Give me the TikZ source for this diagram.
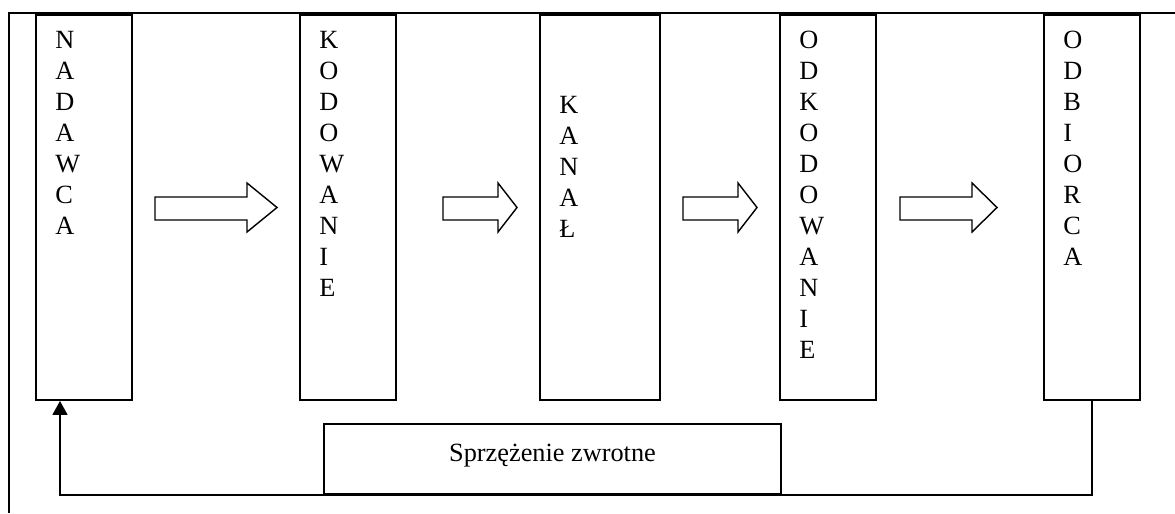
\documentclass[tikz,border=0pt]{standalone}
\usepackage{fontspec}
\setmainfont{Liberation Serif}
\usetikzlibrary{positioning, arrows.meta}

\begin{document}
\begin{tikzpicture}[
        x=0.025cm, y=-0.025cm,
        box/.style={rectangle, draw, line width=1.3pt, minimum width=2.4cm, minimum height=9.625cm, inner sep=0pt},
        letters/.style={align=left, inner sep=0pt, font=\fontsize{18.7pt}{22pt}\selectfont},
        blockarrow/.style={draw, line width=1pt, line join=miter},
        arrow/.style={-{Triangle[width=0.375cm, length=0.35cm]}, thick, line width=1.3pt, draw, black}
    ]
    \useasboundingbox (0,0) rectangle (1175,513);

    % Frame
    \draw[line width=1.3pt] (9,513) -- (9,13) -- (1175,13);

    % Blocks
    \node[box] (nadawca) at (84,207.5) {};
    \node[box] (kodowanie) at (348,207.5) {};
    \node[box, minimum width=3cm] (kanal) at (600,207.5) {};
    \node[box] (odkodowanie) at (828,207.5) {};
    \node[box] (odbiorca) at (1092,207.5) {};

    % Vertical labels
    \node[letters, below right=0.425cm and 0.5cm of nadawca.north west] (nadawcatxt) {N\\A\\D\\A\\W\\C\\A};
    \node[letters, below right=0.425cm and 0.5cm of kodowanie.north west] (kodowanietxt) {K\\O\\D\\O\\W\\A\\N\\I\\E};
    \node[letters, below right=2.05cm and 0.5cm of kanal.north west] (kanaltxt) {K\\A\\N\\A\\Ł};
    \node[letters, below right=0.425cm and 0.5cm of odkodowanie.north west] (odkodowanietxt) {O\\D\\K\\O\\D\\O\\W\\A\\N\\I\\E};
    \node[letters, below right=0.425cm and 0.5cm of odbiorca.north west] (odbiorcatxt) {O\\D\\B\\I\\O\\R\\C\\A};

    % Block arrows
    \draw[blockarrow] (155,197) -- (247,197) -- (247,183) -- (277,207.5) -- (247,232) -- (247,220) -- (155,220) -- cycle;
    \draw[blockarrow] (443,197) -- (498,197) -- (498,183) -- (517,207.5) -- (498,232) -- (498,220) -- (443,220) -- cycle;
    \draw[blockarrow] (683,197) -- (738,197) -- (738,183) -- (757,207.5) -- (738,232) -- (738,220) -- (683,220) -- cycle;
    \draw[blockarrow] (900,197) -- (972,197) -- (972,183) -- (997,207.5) -- (972,232) -- (972,220) -- (900,220) -- cycle;

    % Feedback
    \node[box, minimum width=11.425cm, minimum height=1.75cm, text depth=0.33cm, font=\fontsize{18.7pt}{22pt}\selectfont] (sprzezenie) at (552.5,459) {Sprzężenie zwrotne};
    \coordinate (fbcorner) at (60,495);
    \draw[arrow] (odbiorca.south) |- (fbcorner) -- (fbcorner |- nadawca.south);

\end{tikzpicture}
\end{document}
